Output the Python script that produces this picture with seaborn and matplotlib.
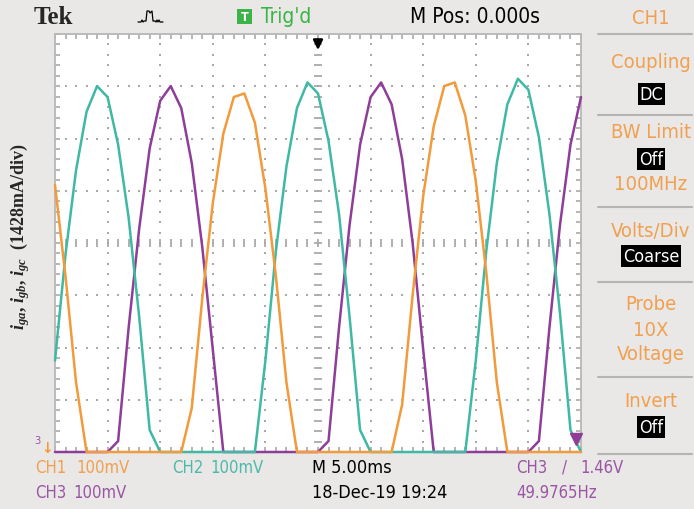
import numpy as np
import pandas as pd
import matplotlib
matplotlib.use('Agg')
import matplotlib.pyplot as plt
from matplotlib.lines import Line2D
from matplotlib.patches import Rectangle
import seaborn as sns

# sample times in ms (5 ms/div, trigger at 0)
t_ms = list(range(-25, 26))

# phase currents, in A, one sample per ms
i_ga = [7.3, 4.8, 1.9, 0, 0, 0, 0, 0, 0, 0,
        0, 0, 0, 1.2, 4.2, 6.8, 8.7, 9.7, 9.8, 9.0,
        7.2, 4.8, 1.9, 0, 0, 0, 0, 0, 0, 0,
        0, 0, 0, 1.3, 4.3, 7.0, 8.9, 10.0, 10.1, 9.2,
        7.4, 4.9, 1.9, 0, 0, 0, 0, 0, 0, 0,
        0]
i_gb = [2.5, 5.4, 7.7, 9.3, 10.0, 9.7, 8.4, 6.4, 3.7, 0.6,
        0, 0, 0, 0, 0, 0, 0, 0, 0, 0,
        2.5, 5.5, 7.8, 9.4, 10.1, 9.8, 8.5, 6.5, 3.7, 0.6,
        0, 0, 0, 0, 0, 0, 0, 0, 0, 0,
        2.5, 5.5, 7.9, 9.5, 10.2, 9.9, 8.6, 6.5, 3.8, 0.6,
        0]
i_gc = [0, 0, 0, 0, 0, 0, 0.3, 3.4, 6.1, 8.3,
        9.6, 10.0, 9.4, 7.9, 5.6, 2.8, 0, 0, 0, 0,
        0, 0, 0, 0, 0, 0, 0.3, 3.4, 6.2, 8.4,
        9.7, 10.1, 9.5, 8.0, 5.7, 2.8, 0, 0, 0, 0,
        0, 0, 0, 0, 0, 0, 0.3, 3.4, 6.2, 8.4,
        9.7]

ch_colors = {'CH1': '#f39a3a', 'CH2': '#3fb8a4', 'CH3': '#8e3d98'}
txt_colors = {'CH1': '#f0a050', 'CH2': '#4cb9aa', 'CH3': '#9a55a4'}

ms_per_div = 5.0
amp_per_div = 1.428
n_xdiv, n_ydiv = 10, 8

df = pd.DataFrame({
    't': t_ms * 3,
    'i': i_ga + i_gb + i_gc,
    'ch': ['CH1'] * len(t_ms) + ['CH2'] * len(t_ms) + ['CH3'] * len(t_ms),
})

sns.set_theme(style='white')
plt.rcParams['font.family'] = ['Liberation Sans Narrow', 'DejaVu Sans']
plt.rcParams['font.stretch'] = 'condensed'
plt.rcParams['mathtext.fontset'] = 'custom'
plt.rcParams['mathtext.it'] = 'Liberation Serif:italic:bold'
plt.rcParams['mathtext.rm'] = 'Liberation Serif:bold'

W, H = 694, 510
BG = '#eae8e6'
GRID = '#a9a9a9'
fig = plt.figure(figsize=(W / 100, H / 100), dpi=100, facecolor=BG)


def fx(px):
    return px / W


def fy(py):
    return 1 - py / H


ax = fig.add_axes([fx(55), fy(453), (581 - 55) / W, (453 - 35) / H])
ax.set_facecolor('white')
xmin, xmax = -n_xdiv / 2 * ms_per_div, n_xdiv / 2 * ms_per_div
ymax = n_ydiv * amp_per_div
ax.set_xlim(xmin, xmax)
ax.set_ylim(0, ymax)

# graticule: dotted division lines, ticked centre lines
xs_fine = np.arange(xmin, xmax + 0.01, ms_per_div / 5)
ys_fine = np.arange(0, ymax + 0.001, amp_per_div / 5)
for k in range(1, n_xdiv):
    x = xmin + k * ms_per_div
    if k == n_xdiv // 2:
        ax.plot([x] * len(ys_fine), ys_fine, ls='none', marker='_', ms=6, mew=1.3, color=GRID, zorder=1)
    else:
        ax.plot([x] * len(ys_fine), ys_fine, ls='none', marker='s', ms=1.6, mew=0, color=GRID, zorder=1)
for k in range(1, n_ydiv):
    y = k * amp_per_div
    if k == n_ydiv // 2:
        ax.plot(xs_fine, [y] * len(xs_fine), ls='none', marker='|', ms=6, mew=1.3, color=GRID, zorder=1)
    else:
        ax.plot(xs_fine, [y] * len(xs_fine), ls='none', marker='s', ms=1.6, mew=0, color=GRID, zorder=1)

ax.set_xticks(xs_fine)
ax.set_yticks(ys_fine)
ax.tick_params(axis='both', which='both', direction='in', length=3.5, width=1.2, color=GRID,
               top=True, right=True, bottom=True, left=True,
               labelbottom=False, labelleft=False)
for s in ax.spines.values():
    s.set_color('#b8b8b8')
    s.set_linewidth(1.3)

sns.lineplot(data=df, x='t', y='i', hue='ch', hue_order=['CH3', 'CH2', 'CH1'],
             palette=ch_colors, estimator=None, linewidth=1.8, legend=False,
             ax=ax, clip_on=False, zorder=3)
ax.set_xlabel('')
ax.set_ylabel('')

# trigger position arrow at the top and level marker at right
ax.annotate('', xy=(0, 0.955), xytext=(0, 0.993), xycoords=('data', 'axes fraction'),
            arrowprops=dict(arrowstyle='-|>', color='black', lw=1.8, mutation_scale=14))
ax.plot([xmax - 0.5], [0.35], marker='v', ms=9, color=ch_colors['CH3'], clip_on=False, zorder=5)

# header
fig.text(fx(34), fy(17), 'Tek', fontsize=18, fontweight='bold', family='Liberation Serif', va='center')
icon_x = [138, 141, 142, 143, 144, 146, 147, 149, 150, 152, 153, 155, 156, 157, 158, 159, 160, 163]
icon_y = [23, 23, 21, 23, 22, 22, 12, 12, 14, 12, 22, 22, 23, 21, 23, 21, 23, 23]
fig.add_artist(Line2D([fx(v) for v in icon_x], [fy(v) for v in icon_y], color='black', lw=0.9))
fig.add_artist(Rectangle((fx(237), fy(25)), 15 / W, 15 / H, facecolor='#3cb44a', edgecolor='none'))
fig.text(fx(244.5), fy(17.5), 'T', fontsize=9, color='white', ha='center', va='center', fontweight='bold')
fig.text(fx(261), fy(17), "Trig'd", fontsize=15, color='#3cb44a', va='center')
fig.text(fx(410), fy(17), 'M Pos: 0.000s', fontsize=15, color='black', va='center')

# right side menu
menu_col = '#f0a050'
menu_x = fx(651)
fig.text(menu_x, fy(18), 'CH1', fontsize=14.5, color=menu_col, ha='center', va='center')
for y in [35, 116, 208, 283, 378, 455]:
    fig.add_artist(Line2D([fx(598), fx(692)], [fy(y), fy(y)], color='#b4b4b4', lw=1.5))
plain = [('Coupling', 63), ('BW Limit', 133), ('100MHz', 185), ('Volts/Div', 232),
         ('Probe', 305), ('10X', 330), ('Voltage', 355), ('Invert', 402)]
for s, y in plain:
    fig.text(menu_x, fy(y), s, fontsize=14.5, color=menu_col, ha='center', va='center')
boxed = [('DC', 95), ('Off', 160), ('Coarse', 257), ('Off', 428)]
for s, y in boxed:
    fig.text(menu_x, fy(y), s, fontsize=13, color='white', ha='center', va='center',
             bbox=dict(facecolor='black', edgecolor='none', pad=1.2))

# footer
footer = [('CH1', 35, 468, 'CH1'), ('100mV', 76, 468, 'CH1'),
          ('CH2', 172, 468, 'CH2'), ('100mV', 210, 468, 'CH2'),
          ('M 5.00ms', 312, 468, None),
          ('CH3', 516, 468, 'CH3'), ('/', 562, 468, 'CH3'), ('1.46V', 580, 468, 'CH3'),
          ('CH3', 35, 493, 'CH3'), ('100mV', 73, 493, 'CH3'),
          ('18-Dec-19 19:24', 312, 493, None),
          ('49.9765Hz', 516, 493, 'CH3')]
for s, x, y, ch in footer:
    fs = 12 if ch else 13
    fig.text(fx(x), fy(y), s, fontsize=fs, color=txt_colors[ch] if ch else 'black', va='center')

# ground markers at the left
fig.text(fx(34), fy(441), '3', fontsize=8, color=txt_colors['CH3'], va='center')
fig.text(fx(47), fy(449), '\u2193', fontsize=11, color=ch_colors['CH1'], ha='center', va='center',
         fontweight='bold', family='DejaVu Sans')

fig.text(fx(20), fy(237), r'$i_{ga}$, $i_{gb}$, $i_{gc}$  (1428mA/div)', rotation=90,
         fontsize=13, family='Liberation Serif', fontweight='bold', ha='center', va='center')

fig.savefig('out.png', dpi=100, facecolor=BG)
